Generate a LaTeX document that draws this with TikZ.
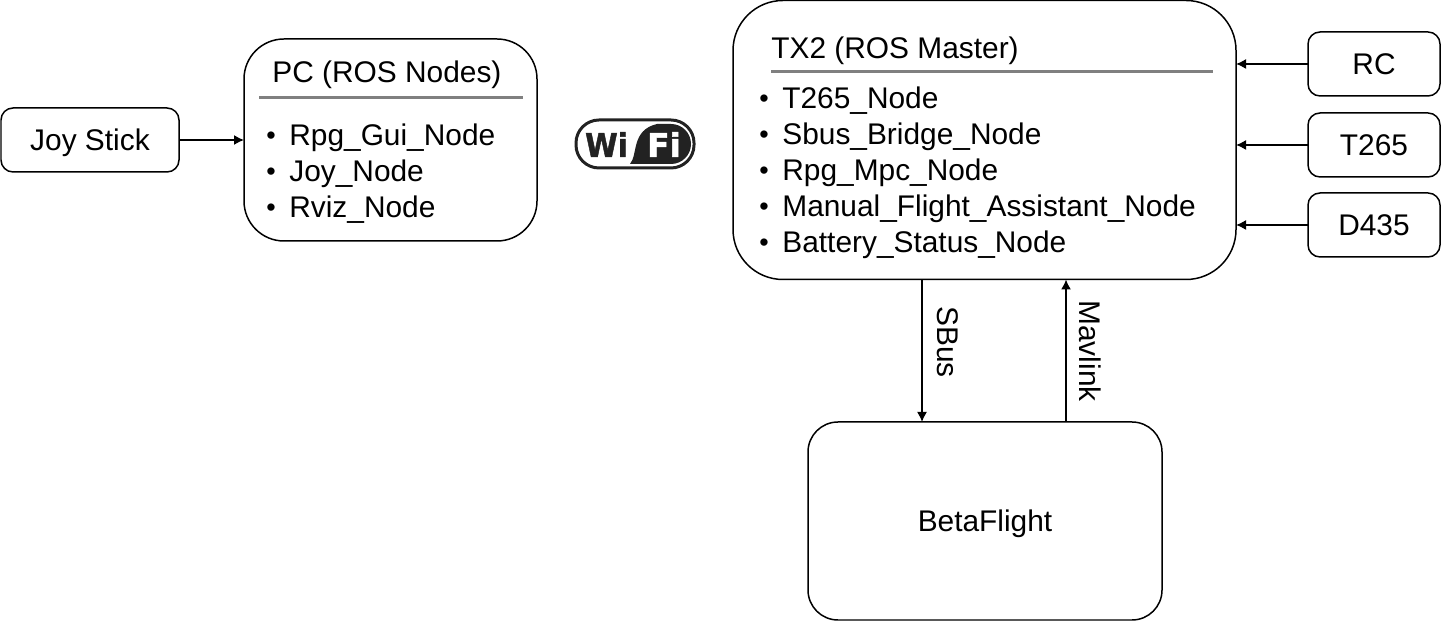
\documentclass[tikz,border=0pt]{standalone}
\usepackage{fontspec}
\setmainfont{Liberation Sans}
\newfontfamily\wififont{DejaVu Sans Bold}[FakeBold=1.5]
\usetikzlibrary{arrows.meta}
\definecolor{wifidark}{HTML}{222222}
\def\listitem#1{\makebox[0.46cm][l]{\raisebox{0.6pt}{\scalebox{0.9}{•}}}#1}
\tikzset{
	box/.style={draw=black, line width=0.85pt, inner sep=0pt, outer sep=0pt, text depth=0pt, font=\fontsize{17}{20}\selectfont},
	smallbox/.style={box, minimum height=1.28cm, rounded corners=0.24cm},
	listline/.style={anchor=base west, inner sep=0pt, font=\fontsize{17}{20}\selectfont},
	busline/.style={inner sep=0pt, rotate=-90, font=\fontsize{17}{20}\selectfont},
	headrule/.style={draw=black!50, line width=1.7pt},
	link/.style={line width=0.8pt, -{Latex[length=0.2cm,width=0.2cm]}}
}
\begin{document}
\begin{tikzpicture}
			%%%%% START %%%%%
			\useasboundingbox (0, 0) rectangle (28.82, 12.42);
			
			\node[smallbox, minimum width=3.56cm] (joystick) at (1.80, 9.62) {Joy Stick};
			\node[box, minimum width=5.86cm, minimum height=4.04cm, rounded corners=0.8cm] (pc) at (7.81, 9.62) {};
			\node[box, minimum width=10.06cm, minimum height=5.58cm, rounded corners=1cm] (tx2) at (19.69, 9.62) {};
			\node[box, minimum width=7.08cm, minimum height=3.96cm, rounded corners=0.6cm] (beta) at (19.70, 2.00) {BetaFlight};
			
			\node[smallbox, minimum width=2.64cm] (rc) at (27.48, 11.14) {RC};
			\node[smallbox, minimum width=2.64cm] (t265) at (27.48, 9.52) {T265};
			\node[smallbox, minimum width=2.64cm] (d435) at (27.48, 7.92) {D435};
			
			% PC contents
			\node[listline] (pctitle) at (5.44, 10.76) {PC (ROS Nodes)};
			\draw[headrule] (5.18, 10.46) -- (10.46, 10.46);
			\node[listline] (pcgui) at (5.32, 9.50) {\listitem{Rpg\_Gui\_Node}};
			\node[listline] (pcjoy) at (5.32, 8.78) {\listitem{Joy\_Node}};
			\node[listline] (pcrviz) at (5.32, 8.06) {\listitem{Rviz\_Node}};
			
			% TX2 contents
			\node[listline] (txtitle) at (15.42, 11.24) {TX2 (ROS Master)};
			\draw[headrule] (15.42, 10.98) -- (24.26, 10.98);
			\node[listline] (txt265) at (15.18, 10.24) {\listitem{T265\_Node}};
			\node[listline] (txsbus) at (15.18, 9.52) {\listitem{Sbus\_Bridge\_Node}};
			\node[listline] (txmpc) at (15.18, 8.80) {\listitem{Rpg\_Mpc\_Node}};
			\node[listline] (txmanual) at (15.18, 8.08) {\listitem{Manual\_Flight\_Assistant\_Node}};
			\node[listline] (txbattery) at (15.18, 7.36) {\listitem{Battery\_Status\_Node}};
			
			% links
			\coordinate (sbusx) at (18.44, 0);
			\coordinate (mavx) at (21.32, 0);
			\draw[link] (joystick) -- (pc);
			\draw[link] (rc.west) -- (rc.west -| tx2.east);
			\draw[link] (t265.west) -- (t265.west -| tx2.east);
			\draw[link] (d435.west) -- (d435.west -| tx2.east);
			\draw[link] (tx2.south -| sbusx) -- (beta.north -| sbusx);
			\draw[link] (beta.north -| mavx) -- (tx2.south -| mavx);
			\node[busline] (sbus) at (18.96, 5.58) {SBus};
			\node[busline] (mavlink) at (21.80, 5.40) {Mavlink};
			
			% wifi logo
			\node[draw=wifidark, line width=1.7pt, minimum width=2.36cm, minimum height=0.96cm, rounded corners=0.46cm, inner sep=0pt] (wifi) at (12.70, 9.54) {};
			\fill[wifidark] (13.14, 9.94) -- (13.42, 9.94) arc (90:-90:0.40) -- (12.60, 9.14) .. controls (12.76, 9.32) and (12.62, 9.82) .. (13.14, 9.94);
			\node[anchor=base, inner sep=0pt, xscale=0.9, text=wifidark, font=\wififont\fontsize{18.7}{20}\selectfont] (wifiwi) at (12.13, 9.28) {Wi};
			\node[anchor=base, inner sep=0pt, text=white, font=\wififont\fontsize{18.7}{20}\selectfont] (wififi) at (13.28, 9.28) {Fi};
			%%%%% END %%%%%
		\end{tikzpicture}
\end{document}
